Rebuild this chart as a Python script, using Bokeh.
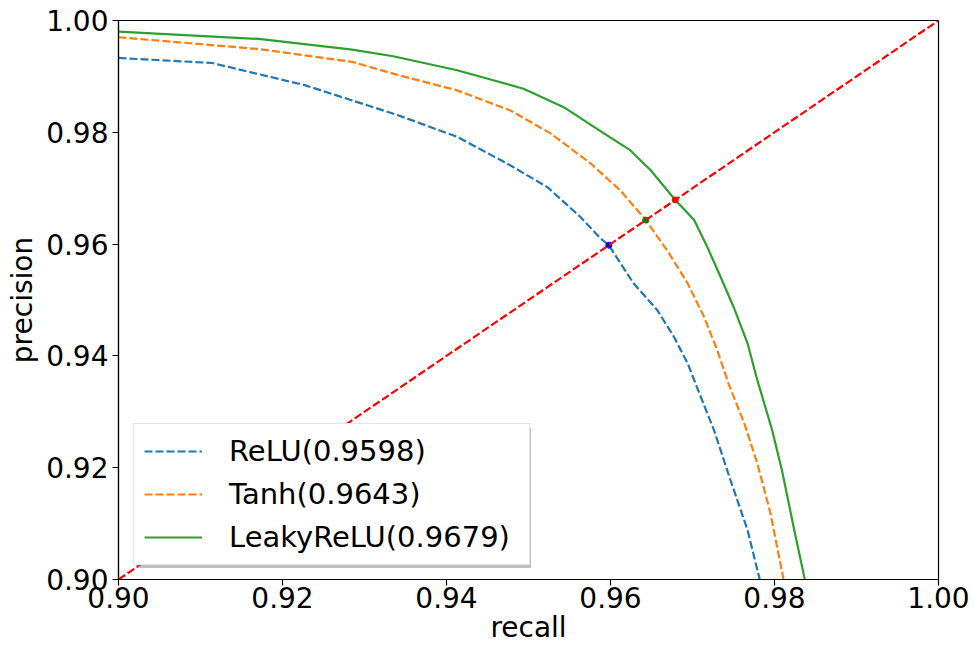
from bokeh.plotting import figure
from bokeh.models import Range1d, FixedTicker, Legend, LegendItem
from bokeh.embed import file_html
from bokeh.resources import INLINE

# ---- data ----
relu_recall = [0.9000, 0.9114, 0.9228, 0.9340, 0.9413, 0.9474, 0.9523, 0.9563, 0.9588,
               0.9598, 0.9628, 0.9657, 0.9677, 0.9694, 0.9706, 0.9726, 0.9746, 0.9767, 0.9782]
relu_precision = [0.9933, 0.9924, 0.9884, 0.9831, 0.9792, 0.9744, 0.9702, 0.9649, 0.9610,
                  0.9598, 0.9530, 0.9482, 0.9435, 0.9387, 0.9342, 0.9268, 0.9179, 0.9089, 0.9000]

tanh_recall = [0.9000, 0.9171, 0.9285, 0.9337, 0.9413, 0.9478, 0.9527, 0.9576, 0.9612,
               0.9643, 0.9669, 0.9694, 0.9714, 0.9730, 0.9744, 0.9763, 0.9779, 0.9795, 0.9811]
tanh_precision = [0.9970, 0.9949, 0.9926, 0.9904, 0.9875, 0.9839, 0.9798, 0.9744, 0.9696,
                  0.9643, 0.9589, 0.9530, 0.9470, 0.9411, 0.9350, 0.9280, 0.9208, 0.9119, 0.9000]

leaky_recall = [0.9000, 0.9171, 0.9285, 0.9335, 0.9413, 0.9494, 0.9543, 0.9592, 0.9624, 0.9649,
                0.9679, 0.9702, 0.9718, 0.9734, 0.9750, 0.9767, 0.9779, 0.9797, 0.9809, 0.9824, 0.9837]
leaky_precision = [0.9980, 0.9967, 0.9948, 0.9936, 0.9911, 0.9878, 0.9845, 0.9798, 0.9768, 0.9732,
                   0.9679, 0.9643, 0.9595, 0.9542, 0.9488, 0.9423, 0.9357, 0.9268, 0.9196, 0.9089, 0.9000]

bep_values = [0.9598, 0.9643, 0.9679]
bep_colors = ["#0000ff", "#008000", "#ff0000"]

diag_values = [0.90, 1.00]

series_labels = ["ReLU(0.9598)", "Tanh(0.9643)", "LeakyReLU(0.9679)"]

tick_values = [0.90, 0.92, 0.94, 0.96, 0.98, 1.00]
tick_labels = ["0.90", "0.92", "0.94", "0.96", "0.98", "1.00"]

FONT = "DejaVu Sans"
FS = "28px"

p = figure(width=974, height=652,
           x_range=Range1d(0.9, 1.0), y_range=Range1d(0.9, 1.0),
           output_backend="svg", toolbar_location=None,
           min_border_left=118, min_border_right=36,
           min_border_top=20, min_border_bottom=73,
           background_fill_color="white", border_fill_color="white")

p.grid.visible = False
p.outline_line_color = "black"
p.outline_line_width = 1.2

for ax in (p.xaxis[0], p.yaxis[0]):
    ax.ticker = FixedTicker(ticks=tick_values)
    ax.major_label_overrides = dict(zip(tick_values, tick_labels))
    ax.minor_tick_line_color = None
    ax.major_tick_in = 0
    ax.major_tick_out = 6
    ax.major_tick_line_width = 1.2
    ax.major_tick_line_color = "black"
    ax.axis_line_color = "black"
    ax.axis_line_width = 1.2
    ax.major_label_text_font = FONT
    ax.major_label_text_font_size = FS
    ax.major_label_text_color = "black"
    ax.axis_label_text_font = FONT
    ax.axis_label_text_font_size = FS
    ax.axis_label_text_font_style = "normal"
    ax.axis_label_text_color = "black"

p.xaxis.axis_label = "recall"
p.yaxis.axis_label = "precision"
p.xaxis.major_label_standoff = 1
p.xaxis.axis_label_standoff = 0
p.yaxis.major_label_standoff = 4
p.yaxis.axis_label_standoff = 4

r1 = p.line(relu_recall, relu_precision, line_color="#1f77b4", line_width=2.2, line_dash="8 3")
r2 = p.line(tanh_recall, tanh_precision, line_color="#ff7f0e", line_width=2.2, line_dash="8 3")
r3 = p.line(leaky_recall, leaky_precision, line_color="#2ca02c", line_width=2.2)

p.scatter(bep_values, bep_values, color=bep_colors, size=6)
p.line(diag_values, diag_values, line_color="#ff0000", line_width=2.2, line_dash="8 3")

renderers = [r1, r2, r3]

common = dict(padding=10, spacing=9, glyph_width=58, glyph_height=20,
              label_standoff=27, label_width=290, label_height=34, margin=0,
              label_text_font=FONT, label_text_font_size="29px")

shadow = Legend(items=[LegendItem(label="", renderers=[r]) for r in renderers],
                location=(18, 11), background_fill_color="#808080",
                background_fill_alpha=0.5, border_line_alpha=0, **common)
front = Legend(items=[LegendItem(label=l, renderers=[r]) for l, r in zip(series_labels, renderers)],
               location=(15, 14), background_fill_color="white",
               background_fill_alpha=1.0, border_line_color="#cccccc",
               border_line_width=1, label_text_color="black", **common)
p.add_layout(shadow, "center")
p.add_layout(front, "center")

open("out.html", "w").write(file_html(p, INLINE))
